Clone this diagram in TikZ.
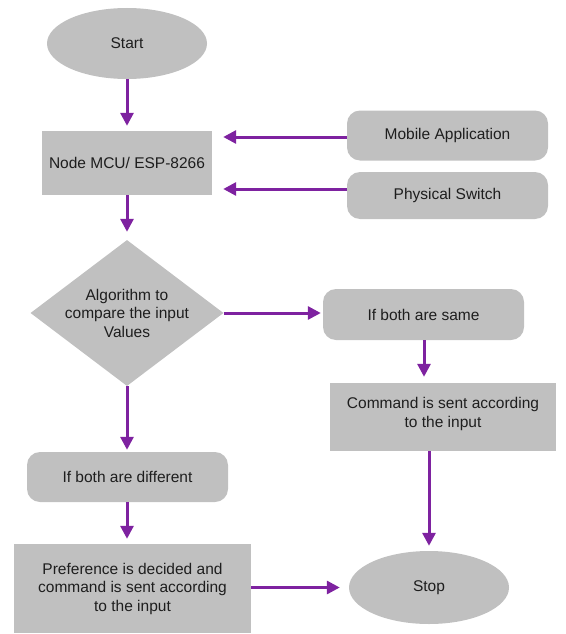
\documentclass[tikz,border=0pt]{standalone}
\usepackage{fontspec}
\setmainfont{Liberation Sans}
\usetikzlibrary{shapes.geometric,arrows.meta}
\definecolor{boxgray}{RGB}{192,192,192}
\definecolor{flowpurple}{RGB}{126,34,160}
\definecolor{inktext}{RGB}{30,30,30}
\begin{document}
\begin{tikzpicture}[x=1pt,y=-1pt,
  every node/.style={font=\fontsize{15.5}{18.5}\selectfont, text=inktext, align=center, inner sep=0pt},
  terminal/.style={ellipse, fill=boxgray},
  process/.style={rectangle, fill=boxgray},
  roundbox/.style={rectangle, rounded corners=13pt, fill=boxgray},
  decision/.style={diamond, fill=boxgray},
  arr/.style={draw=flowpurple, line width=3pt,
    -{Triangle[length=13pt,width=13pt]}}]
\useasboundingbox (0,0) rectangle (565,634);

% nodes
\node[terminal, minimum width=160pt, minimum height=71pt] (start) at (127,43.5) {Start};
\node[process, minimum width=170pt, minimum height=64pt] (mcu) at (127,163) {Node MCU/ ESP-8266};
\node[roundbox, minimum width=201pt, minimum height=50pt] (mobile) at (447.5,135.5) {Mobile Application};
\node[roundbox, minimum width=201pt, minimum height=47pt] (phys) at (447.5,195.5) {Physical Switch};
\node[decision, minimum width=193pt, minimum height=146pt] (alg) at (127,313) {};
\node (algtext) at (alg) {Algorithm to\\compare the input\\Values};
\node[roundbox, minimum width=201pt, minimum height=51pt] (same) at (423.5,314.5) {If both are same};
\node[process, minimum width=226pt, minimum height=68pt] (cmd) at (443,417) {};
\node (cmdtext) at (443,414) {Command is sent according\\to the input};
\node[roundbox, minimum width=201pt, minimum height=50pt] (diff) at (127.5,477) {If both are different};
\node[process, minimum width=237pt, minimum height=89pt] (pref) at (132.5,588.5) {Preference is decided and\\command is sent according\\to the input};
\node[terminal, minimum width=160pt, minimum height=73pt] (stop) at (429,587.5) {Stop};

% connectors
\draw[arr, shorten >=5pt] (start.south) -- (mcu.north);
\draw[arr, shorten >=11pt] ([yshift=-1.5pt]mobile.west) -- ([yshift=-1.5pt]mobile.west -| mcu.east);
\draw[arr, shorten >=11pt] ([yshift=6.5pt]phys.west) -- ([yshift=6.5pt]phys.west -| mcu.east);
\draw[arr, shorten >=8pt] (mcu.south) -- (alg.north);
\draw[arr, shorten >=2pt] (alg.east) -- (alg.east -| same.west);
\draw[arr, shorten >=6pt] (same.south -| 424,0) -- (cmd.north -| 424,0);
\draw[arr, shorten >=5pt] (cmd.south -| stop.north) -- (stop.north);
\draw[arr, shorten >=2pt] (alg.south) -- (alg.south |- diff.north);
\draw[arr, shorten >=5pt] (diff.south -| 127,0) -- (pref.north -| 127,0);
\draw[arr, shorten >=9pt] (pref.east |- stop.west) -- (stop.west);
\end{tikzpicture}
\end{document}
